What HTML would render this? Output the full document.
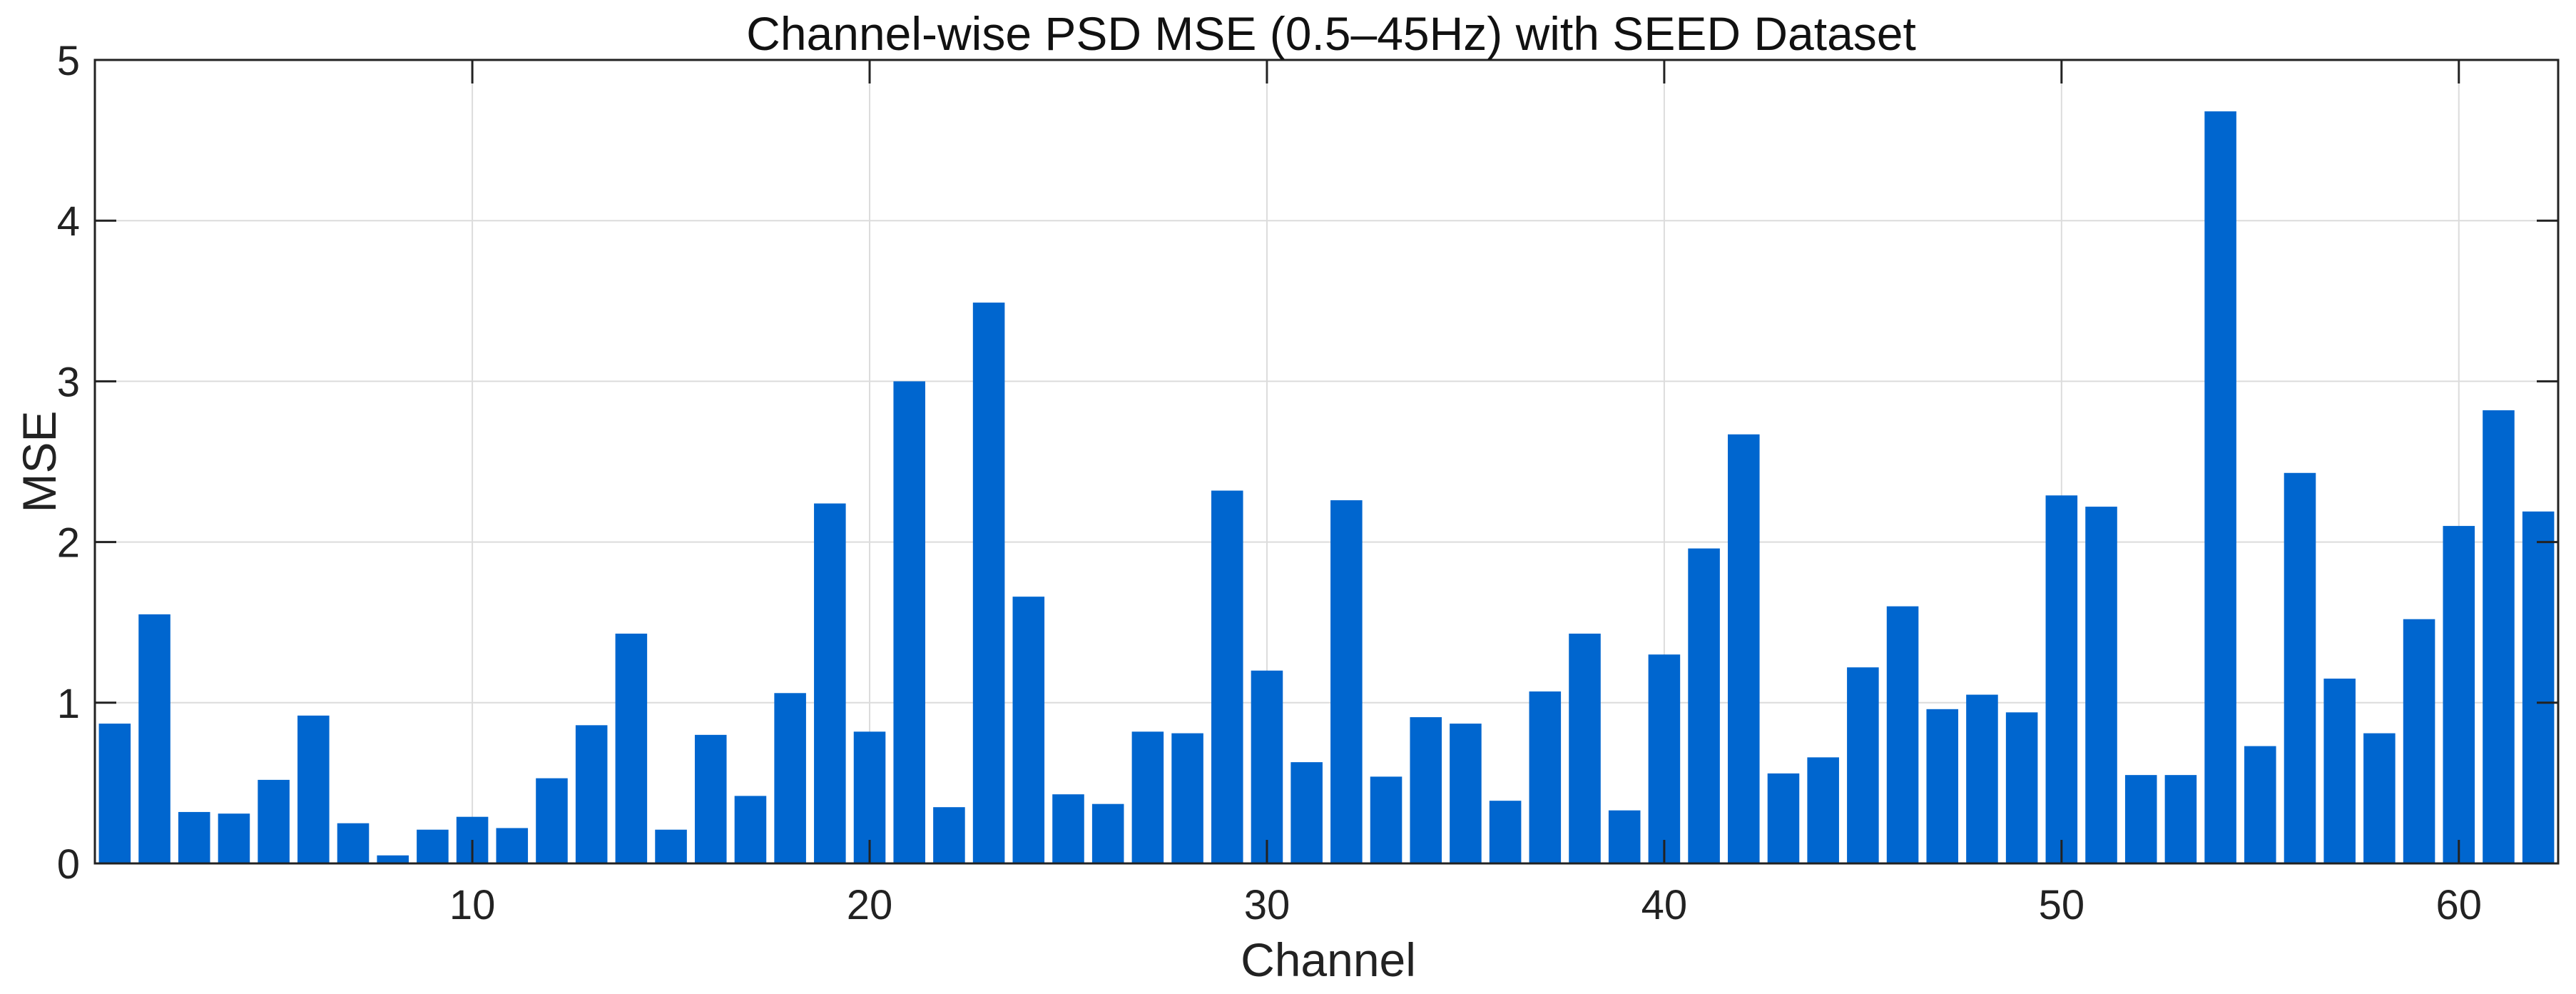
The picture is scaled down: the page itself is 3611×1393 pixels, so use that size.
<!DOCTYPE html>
<html><head><meta charset="utf-8"><style>
html,body{margin:0;padding:0;background:#fff;}
svg{display:block;font-family:"Liberation Sans",Arial,sans-serif;}
</style></head><body>
<svg id="chart" width="3611" height="1393" viewBox="0 0 3611 1393" xmlns="http://www.w3.org/2000/svg">
<rect width="3611" height="1393" fill="#fff"/>
<g id="grid"></g>
<g id="bars"></g>
<g id="axes"></g>
<text x="1866" y="70" font-size="66" text-anchor="middle" fill="#111">Channel-wise PSD MSE (0.5–45Hz) with SEED Dataset</text>
<text x="1862" y="1368" font-size="66" text-anchor="middle" fill="#222">Channel</text>
<text transform="translate(78,647) rotate(-90)" font-size="66" text-anchor="middle" fill="#222">MSE</text>
</svg>
<script>
const channels = [];
for (let i = 1; i <= 62; i++) channels.push(i);
const mseValues = [0.87,1.55,0.32,0.31,0.52,0.92,0.25,0.05,0.21,0.29,0.22,0.53,0.86,1.43,0.21,0.80,0.42,1.06,2.24,0.82,3.00,0.35,3.49,1.66,0.43,0.37,0.82,0.81,2.32,1.20,0.63,2.26,0.54,0.91,0.87,0.39,1.07,1.43,0.33,1.30,1.96,2.67,0.56,0.66,1.22,1.60,0.96,1.05,0.94,2.29,2.22,0.55,0.55,4.68,0.73,2.43,1.15,0.81,1.52,2.10,2.82,2.19];
const yTicks = [0,1,2,3,4,5];
const xTicks = [10,20,30,40,50,60];

const L=133, R=3586, T=84, B=1210;
const xMin=0.5, xMax=62.5, yMin=0, yMax=5;
const xs = v => L + (v - xMin) / (xMax - xMin) * (R - L);
const ys = v => B - (v - yMin) / (yMax - yMin) * (B - T);
const NS = "http://www.w3.org/2000/svg";
function mk(tag, attrs, parent){ const e=document.createElementNS(NS,tag); for(const k in attrs) e.setAttribute(k,attrs[k]); parent.appendChild(e); return e; }
const grid=document.getElementById('grid'), bars=document.getElementById('bars'), axes=document.getElementById('axes');

yTicks.forEach(t=>{
  if(t>yMin && t<yMax){
    const g=mk('line',{x1:L,x2:R,y1:ys(t),y2:ys(t),stroke:'#dcdcdc','stroke-width':2},grid);
    
    
  }
  const tk=mk('line',{x1:L,x2:L+30,y1:ys(t),y2:ys(t),stroke:'#222','stroke-width':3},axes);
  
  
  const tr=mk('line',{x1:R-30,x2:R,y1:ys(t),y2:ys(t),stroke:'#222','stroke-width':3},axes);
  
  
  const lb=mk('text',{x:L-21,y:ys(t)+21,'font-size':58,'text-anchor':'end',fill:'#222'},axes);
  lb.textContent=t;
  
  
});
xTicks.forEach(t=>{
  const g=mk('line',{x1:xs(t),x2:xs(t),y1:T,y2:B,stroke:'#dcdcdc','stroke-width':2},grid);
  
  
  const tk=mk('line',{x1:xs(t),x2:xs(t),y1:B,y2:B-33,stroke:'#222','stroke-width':3},axes);
  
  
  const tt=mk('line',{x1:xs(t),x2:xs(t),y1:T,y2:T+33,stroke:'#222','stroke-width':3},axes);
  
  
  const lb=mk('text',{x:xs(t),y:1288,'font-size':58,'text-anchor':'middle',fill:'#222'},axes);
  lb.textContent=t;
  
  
});
const bw=0.8;
channels.forEach((c,i)=>{
  const v=mseValues[i];
  const r=mk('rect',{x:xs(c-bw/2),y:ys(v),width:xs(c+bw/2)-xs(c-bw/2),height:ys(0)-ys(v),fill:'#0066CF'},bars);
  
  
});
const box=mk('rect',{x:L,y:T,width:R-L,height:B-T,fill:'none',stroke:'#222','stroke-width':3},axes);


</script>
</body></html>
